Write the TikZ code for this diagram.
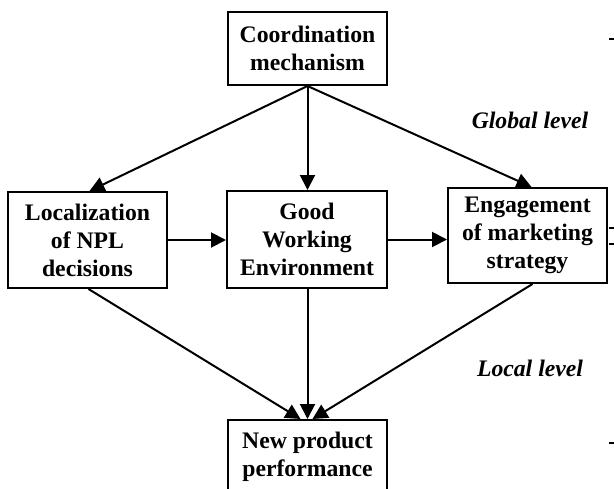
\documentclass[tikz,border=0pt]{standalone}
\usepackage{fontspec}
\setmainfont{Liberation Serif}
\usetikzlibrary{arrows.meta}
\begin{document}
\begin{tikzpicture}[x=1pt,y=-1pt,
  box/.style={draw,line width=2pt,inner sep=0pt,align=center,
    font=\fontsize{23.7}{28}\selectfont\bfseries},
  lvl/.style={inner sep=0pt,font=\fontsize{23.7}{28}\selectfont\bfseries\itshape},
  arr/.style={line width=2pt,-{Triangle[length=15pt,width=15pt]}},
  tick/.style={line width=1.5pt}]
\useasboundingbox (0,0) rectangle (614,488);
\clip (0,0) rectangle (614,488);
\node[box,minimum width=159pt,minimum height=73pt] (coord) at (307.5,48.5) {Coordination\\mechanism};
\node[box,minimum width=159pt,minimum height=96pt] (loc) at (87.5,240) {Localization\\of NPL\\decisions};
\node[box,minimum width=160pt,minimum height=97pt] (good) at (307,239.5) {Good\\Working\\Environment};
\node[box,minimum width=159pt,minimum height=95pt] (eng) at (527.5,235.5) {Engagement\\of marketing\\strategy};
\node[box,minimum width=159pt,minimum height=73pt] (npp) at (307.5,456.5) {New product\\performance};
\node[lvl] (glob) at (530,120) {Global level};
\node[lvl] (loclvl) at (530,368) {Local level};
\draw[arr] (coord.south) -- ([xshift=2pt]loc.north);
\draw[arr] (coord.south) -- (coord.south |- good.north);
\draw[arr] (coord.south) -- ([xshift=4pt]eng.north);
\draw[arr] (loc.east) -- (loc.east -| good.west);
\draw[arr] (good.east) -- (good.east -| eng.west);
\draw[arr] ([xshift=1pt]loc.south) -- ([xshift=-7pt]npp.north);
\draw[arr] (good.south -| npp.north) -- (npp.north);
\draw[arr] ([xshift=5pt]eng.south) -- ([xshift=5pt]npp.north);
\coordinate (t1a) at (609,39); \coordinate (t1b) at (614,39);
\coordinate (t2a) at (609,228); \coordinate (t2b) at (614,228);
\coordinate (t3a) at (609,244); \coordinate (t3b) at (614,244);
\coordinate (t4a) at (609,443); \coordinate (t4b) at (614,443);
\draw[tick] (t1a) -- (t1b);
\draw[tick] (t2a) -- (t2b);
\draw[tick] (t3a) -- (t3b);
\draw[tick] (t4a) -- (t4b);
\end{tikzpicture}
\end{document}
